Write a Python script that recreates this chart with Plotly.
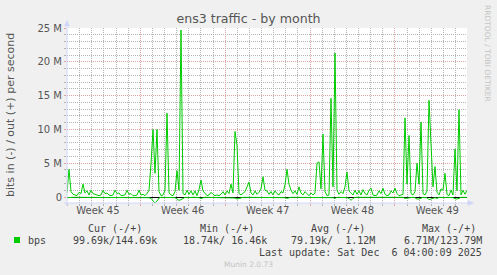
import plotly.graph_objects as go

# ---------------- data ----------------
span_days = 33
week_labels = ["Week 45", "Week 46", "Week 47", "Week 48", "Week 49"]
week_label_days = [2.55, 9.55, 16.55, 23.55, 30.55]
week_start_days = [6.05, 13.05, 20.05, 27.05]
day_grid_offset = 0.05

y_tick_vals = [0, 5e6, 10e6, 15e6, 20e6, 25e6]
y_tick_text = ["0", "5 M", "10 M", "15 M", "20 M", "25 M"]

# out (+) traffic, Mbit/s
out_mbps = [
    0.6, 4.1, 0.8, 0.4, 0.3, 0.2, 0.7, 0.5, 1.9, 0.6,
    0.9, 0.3, 1.0, 0.5, 0.4, 0.3, 0.2, 0.3, 1.0, 0.5,
    0.6, 0.3, 0.2, 0.3, 1.0, 0.5, 0.6, 0.2, 0.2, 0.3,
    1.0, 0.4, 0.5, 0.2, 0.2, 0.3, 1.0, 0.3, 0.4, 0.2,
    0.5, 1.0, 4.9, 10.0, 3.5, 10.0, 0.8, 0.2, 0.3, 1.0,
    12.4, 0.6, 0.3, 0.2, 0.8, 3.9, 1.0, 24.7, 0.5, 0.3,
    1.0, 0.4, 0.9, 0.3, 0.9, 0.2, 1.1, 2.5, 0.9, 0.6,
    0.2, 0.3, 0.7, 0.4, 0.2, 0.3, 0.2, 0.4, 0.8, 0.3,
    0.9, 0.5, 1.9, 0.6, 9.7, 7.7, 0.5, 0.3, 0.6, 0.8,
    1.5, 2.2, 0.6, 0.3, 0.9, 0.4, 0.7, 1.2, 3.0, 1.0,
    0.9, 0.4, 0.8, 0.3, 0.9, 0.5, 0.3, 0.8, 0.6, 1.8,
    4.1, 1.9, 1.0, 0.5, 0.9, 0.4, 1.5, 0.6, 0.3, 0.8,
    0.5, 0.2, 0.6, 0.3, 0.6, 5.0, 5.2, 1.2, 9.3, 0.8,
    0.2, 0.3, 14.6, 1.5, 21.3, 1.0, 0.4, 0.8, 0.5, 1.5,
    3.7, 0.9, 0.6, 0.3, 1.0, 0.4, 0.9, 0.3, 1.1, 0.5,
    0.3, 1.0, 1.3, 0.3, 0.2, 0.3, 0.9, 0.5, 1.3, 0.4,
    0.2, 0.3, 0.9, 0.6, 1.3, 0.5, 0.2, 0.3, 0.4, 11.7,
    1.9, 9.1, 0.5, 0.3, 0.8, 5.0, 1.9, 11.1, 0.5, 0.3,
    0.9, 14.3, 8.8, 1.5, 4.5, 0.7, 0.3, 1.2, 1.0, 3.5,
    0.4, 0.2, 1.0, 0.3, 7.1, 0.9, 12.9, 0.3, 1.0, 0.4,
    1.0,
]

# in (-) traffic magnitude, Mbit/s (drawn below zero)
in_mbps = [
    0.1, 0.05, 0.05, 0.05, 0.05, 0.05, 0.1, 0.05, 0.1, 0.05,
    0.05, 0.05, 0.1, 0.05, 0.05, 0.05, 0.05, 0.05, 0.1, 0.05,
    0.05, 0.05, 0.05, 0.05, 0.1, 0.05, 0.05, 0.05, 0.05, 0.05,
    0.1, 0.05, 0.05, 0.05, 0.05, 0.05, 0.1, 0.05, 0.05, 0.05,
    0.05, 0.1, 0.2, 0.5, 0.9, 0.6, 0.15, 0.05, 0.05, 0.1,
    0.1, 0.05, 0.05, 0.05, 0.1, 0.3, 0.5, 0.4, 0.2, 0.05,
    0.1, 0.05, 0.05, 0.05, 0.05, 0.05, 0.1, 0.2, 0.1, 0.05,
    0.05, 0.05, 0.05, 0.05, 0.05, 0.05, 0.05, 0.05, 0.1, 0.05,
    0.05, 0.05, 0.1, 0.05, 0.15, 0.3, 0.2, 0.05, 0.05, 0.05,
    0.05, 0.1, 0.05, 0.05, 0.05, 0.05, 0.05, 0.05, 0.05, 0.1,
    0.05, 0.05, 0.05, 0.05, 0.05, 0.05, 0.05, 0.05, 0.05, 0.1,
    0.2, 0.1, 0.05, 0.05, 0.05, 0.05, 0.05, 0.05, 0.05, 0.05,
    0.05, 0.05, 0.05, 0.05, 0.05, 0.1, 0.15, 0.05, 0.1, 0.05,
    0.05, 0.05, 0.15, 0.1, 0.2, 0.05, 0.05, 0.05, 0.05, 0.05,
    0.1, 0.2, 0.5, 0.2, 0.05, 0.05, 0.05, 0.05, 0.05, 0.05,
    0.05, 0.05, 0.1, 0.05, 0.05, 0.05, 0.05, 0.05, 0.1, 0.05,
    0.05, 0.05, 0.05, 0.05, 0.1, 0.05, 0.05, 0.05, 0.05, 0.2,
    0.15, 0.1, 0.05, 0.05, 0.1, 0.3, 0.3, 0.2, 0.05, 0.1,
    0.1, 0.4, 0.3, 0.1, 0.1, 0.2, 0.05, 0.05, 0.1, 0.1,
    0.05, 0.05, 0.05, 0.1, 0.25, 0.3, 0.2, 0.05, 0.05, 0.05,
    0.05,
]

legend_header = ["Cur\u00a0(-/+)", "Min\u00a0(-/+)", "Avg\u00a0(-/+)", "Max\u00a0(-/+)"]
legend_values = ["99.69k/144.69k", "18.74k/\u00a016.46k", "79.19k/\u00a0\u00a01.12M", "6.71M/123.79M"]
legend_name = "bps"
last_update = "Last\u00a0update:\u00a0Sat\u00a0Dec\u00a0\u00a06\u00a004:00:09\u00a02025"

# ---------------- styling ----------------
W, H = 497, 275
PL, PR, PT, PB = 67, 467, 28, 203
GREEN = "#00CC00"
GRID = "#B4B4B4"
MGRID = "#E2A2A2"
AXIS = "#CFD6F8"
FONT = "#555555"

n = len(out_mbps)
t_days = [i * span_days / (n - 1) for i in range(n)]
out_bps = [v * 1e6 for v in out_mbps]
in_bps = [-v * 1e6 for v in in_mbps]

# minor grid positions (days / 1 M steps), skipping the major ones
x_minor = [d + day_grid_offset for d in range(span_days)
           if round(d + day_grid_offset, 2) not in week_start_days]
y_minor = [k * 1e6 for k in range(1, 25) if k % 5 != 0]


def px(x):
    return (x - PL) / (PR - PL)


def py(y):
    return (PB - y) / (PB - PT)


fig = go.Figure()
fig.add_trace(go.Scatter(x=t_days, y=out_bps, mode="lines",
                         line=dict(color=GREEN, width=1), hoverinfo="skip"))
fig.add_trace(go.Scatter(x=t_days, y=in_bps, mode="lines", xaxis="x2",
                         line=dict(color=GREEN, width=1), hoverinfo="skip"))

dash = "1px,1px"
fig.update_layout(
    width=W, height=H,
    margin=dict(l=PL, r=W - PR, t=PT, b=H - PB, pad=0),
    paper_bgcolor="#F0F0F0", plot_bgcolor="#FFFFFF",
    showlegend=False,
    font=dict(family="DejaVu Sans", size=10, color=FONT),
    title=dict(text="ens3 traffic - by month", x=0.5, xref="container",
               xanchor="center", y=1 - 19 / H, yref="container", yanchor="middle",
               font=dict(family="DejaVu Sans", size=12.6, color=FONT)),
    xaxis=dict(range=[0, span_days], tickmode="array", tickvals=week_start_days,
               showticklabels=False, showgrid=True, gridcolor=MGRID, griddash=dash,
               gridwidth=1, zeroline=False, showline=False,
               ticks="outside", ticklen=2, tickcolor=MGRID,
               minor=dict(tickmode="array", tickvals=x_minor,
                          showgrid=True, gridcolor=GRID, griddash=dash,
                          ticks="outside", ticklen=2, tickcolor=GRID),
               fixedrange=True),
    xaxis2=dict(range=[0, span_days], overlaying="x", anchor="y", side="bottom",
                tickmode="array", tickvals=week_label_days, ticktext=week_labels,
                showgrid=False, zeroline=False, showline=False, ticks="",
                tickfont=dict(size=10, color=FONT), fixedrange=True),
    yaxis=dict(range=[-0.888e6, 25e6], tickmode="array", tickvals=y_tick_vals,
               ticktext=y_tick_text, showgrid=True, gridcolor=MGRID, griddash=dash,
               zeroline=True, zerolinecolor="#000000", zerolinewidth=1,
               showline=False, ticks="outside", ticklen=2, tickcolor=MGRID,
               tickfont=dict(size=10, color=FONT),
               minor=dict(tickmode="array", tickvals=y_minor, showgrid=True,
                          gridcolor=GRID, griddash=dash, ticks="outside",
                          ticklen=2, tickcolor=GRID),
               fixedrange=True),
)

shapes = [
    # axis lines
    dict(type="line", xref="paper", yref="paper", x0=px(64), x1=px(469),
         y0=py(203), y1=py(203), line=dict(color=AXIS, width=1), layer="above"),
    dict(type="line", xref="paper", yref="paper", x0=px(67), x1=px(67),
         y0=py(206), y1=py(25), line=dict(color=AXIS, width=1), layer="above"),
    # arrows
    dict(type="path", xref="paper", yref="paper",
         path=f"M {px(64.5)} {py(26)} L {px(69.5)} {py(26)} L {px(67)} {py(20.5)} Z",
         fillcolor=AXIS, line=dict(color=AXIS, width=0.5), layer="above"),
    dict(type="path", xref="paper", yref="paper",
         path=f"M {px(468)} {py(200.5)} L {px(468)} {py(205.5)} L {px(473.5)} {py(203)} Z",
         fillcolor=AXIS, line=dict(color=AXIS, width=0.5), layer="above"),
    # legend swatch
    dict(type="rect", xref="paper", yref="paper", x0=px(14), x1=px(20),
         y0=py(243), y1=py(237), fillcolor=GREEN, line=dict(width=0)),
]
fig.update_layout(shapes=shapes)

MONO = "DejaVu Sans Mono"


def ann(text, x, y, xanchor="left", size=10, family=MONO, color="#444444", angle=0):
    fig.add_annotation(text=text, x=px(x), y=py(y), xref="paper", yref="paper",
                       xanchor=xanchor, yanchor="middle", showarrow=False,
                       textangle=angle, font=dict(family=family, size=size, color=color),
                       borderpad=0)


ann("bits in (-) / out (+) per second", 10, 115, xanchor="center", size=11,
    family="DejaVu Sans", color=FONT, angle=-90)
ann("RRDTOOL / TOBI OETIKER", 488, 53, xanchor="center", size=7.5,
    family="DejaVu Sans", color="#C4C4C4", angle=90)

header_right = [143, 255, 366, 477]
for txt, xr in zip(legend_header, header_right):
    ann(txt, xr, 228, xanchor="right")
value_right = [158, 268, 376, 483]
ann(legend_name, 27, 240)
for txt, xr in zip(legend_values, value_right):
    ann(txt, xr, 240, xanchor="right")
ann(last_update, 483, 252, xanchor="right")
ann("Munin 2.0.73", 248, 264, xanchor="center", size=7.5, family="DejaVu Sans",
    color="#C4C4C4")

fig.write_html("out.html")
